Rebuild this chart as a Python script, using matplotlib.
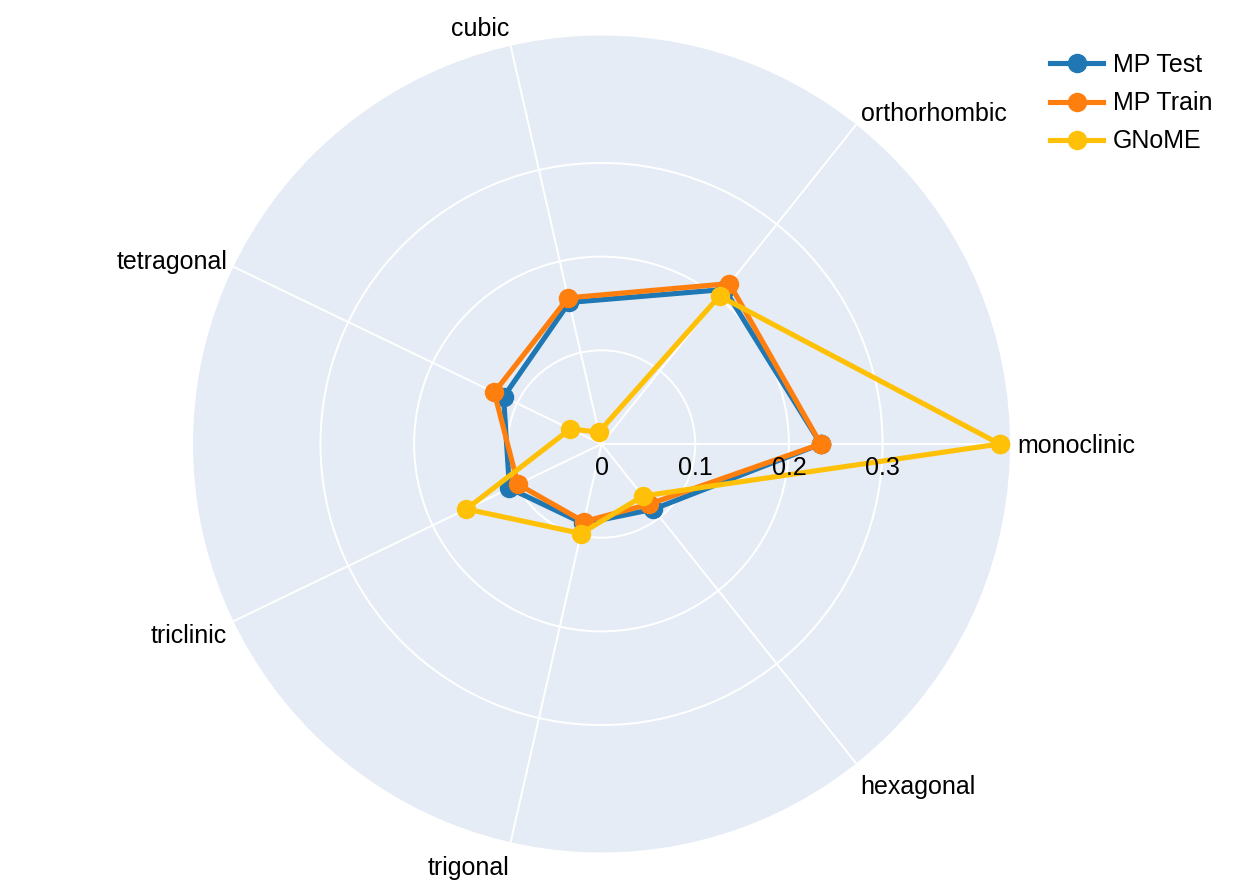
import numpy as np
import matplotlib
matplotlib.use('Agg')
import matplotlib.pyplot as plt

plt.rcParams['font.family'] = ['Liberation Sans', 'DejaVu Sans']

# ---- data ----
categories = ['monoclinic', 'orthorhombic', 'cubic', 'tetragonal',
              'triclinic', 'trigonal', 'hexagonal']
mp_test = [0.234, 0.211, 0.155, 0.116, 0.109, 0.087, 0.089]
mp_train = [0.234, 0.219, 0.160, 0.127, 0.099, 0.085, 0.082]
gnome = [0.425, 0.202, 0.013, 0.037, 0.160, 0.098, 0.071]
series_names = ['MP Test', 'MP Train', 'GNoME']
series_colors = ['#1f77b4', '#ff7f0e', '#ffc107']
radial_ticks = [0, 0.1, 0.2, 0.3]
radial_tick_labels = ['0', '0.1', '0.2', '0.3']
radial_max = 0.436

# ---- figure ----
W, H, DPI = 1246, 890, 100
fig = plt.figure(figsize=(W / DPI, H / DPI), dpi=DPI)
fig.patch.set_facecolor('white')
cx, cy, R = 601.5, 444, 408.5
ax = fig.add_axes([(cx - R) / W, (H - cy - R) / H, 2 * R / W, 2 * R / H],
                  projection='polar')
ax.set_facecolor('#E5ECF6')
ax.spines['polar'].set_visible(False)

theta = np.arange(len(categories)) * 2 * np.pi / len(categories)
ax.set_ylim(0, radial_max)
ax.set_xticks(theta)
ax.set_xticklabels([])
ax.set_yticks(radial_ticks[1:])
ax.set_yticklabels([])
ax.tick_params(length=0)
ax.grid(True, color='white', linewidth=1.44)

for name, vals, col in zip(series_names, [mp_test, mp_train, gnome], series_colors):
    t = np.append(theta, theta[0])
    r = np.append(vals, vals[0])
    ax.plot(t, r, color=col, lw=3.7, marker='o', ms=13, label=name,
            clip_on=False, zorder=3, solid_joinstyle='round')

fs_px = 25
fs_pt = fs_px * 72 / DPI
s = 7
for th, lab in zip(theta, categories):
    c, sn = np.cos(th), np.sin(th)
    ha = 'center' if abs(c) < 0.1 else ('left' if c > 0 else 'right')
    ff = 0.2 if sn > 0 else 1.0
    dy_down = -sn * (s + fs_px * ff) + abs(c) * fs_px * 0.35
    ax.annotate(lab, xy=(th, radial_max), xytext=(c * s, -dy_down),
                textcoords='offset pixels', ha=ha, va='baseline',
                fontsize=fs_pt, color='black', annotation_clip=False)

for rv, rl in zip(radial_ticks, radial_tick_labels):
    ax.annotate(rl, xy=(0, rv), xytext=(0, -31), textcoords='offset pixels',
                ha='center', va='baseline', fontsize=fs_pt, color='black',
                annotation_clip=False, zorder=5)

handles, labels = ax.get_legend_handles_labels()
fig.legend(handles, labels, loc='upper left',
           bbox_to_anchor=(1050 / W, 1 - 53 / H), frameon=False,
           fontsize=fs_pt, handlelength=53 / 25, handletextpad=10 / 25,
           labelspacing=0.57, borderpad=0, borderaxespad=0)

fig.savefig('out.png', dpi=DPI)
